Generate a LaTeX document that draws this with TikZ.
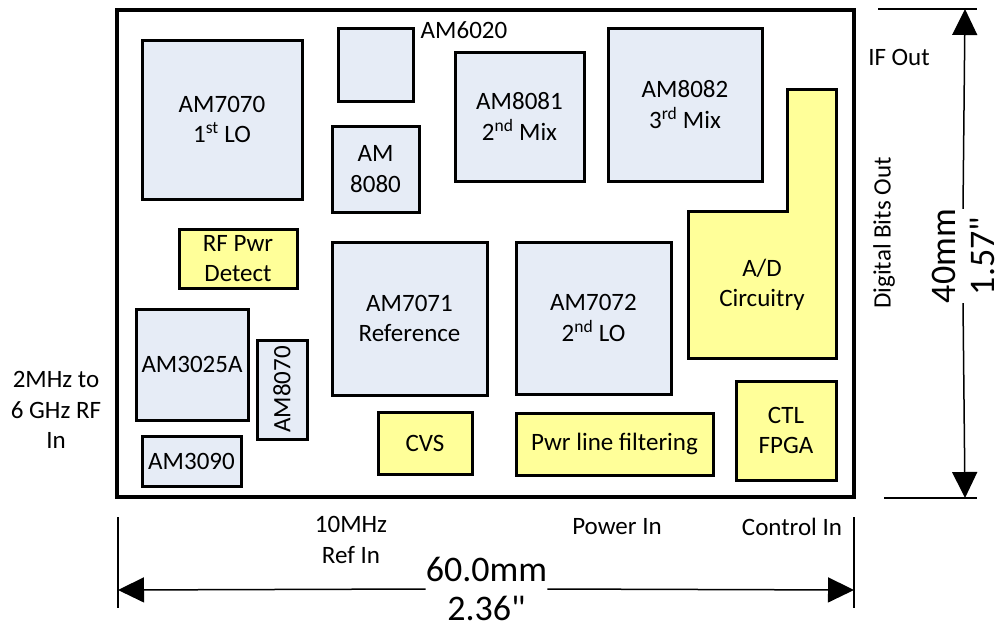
\documentclass[tikz,border=0pt]{standalone}
\usepackage{fontspec}
\setmainfont{Carlito}
\newfontfamily\nomapfont{Carlito}[Ligatures=TeXOff]
\usetikzlibrary{arrows.meta}
\definecolor{chipblue}{HTML}{E6ECF6}
\definecolor{padyellow}{HTML}{FFFF99}
\newcommand{\inchmark}{{\nomapfont"}}
\begin{document}
\begin{tikzpicture}[x=1pt,y=-1pt,
  every node/.style={font=\fontsize{25}{30.5}\selectfont, align=center, inner sep=0pt},
  chip/.style={draw=black, line width=3pt, fill=chipblue},
  pad/.style={draw=black, line width=3pt, fill=padyellow},
  boardbox/.style={draw=black, line width=4pt},
  dimline/.style={line width=1.5pt},
  dimarrow/.style={line width=1.5pt, -{Triangle[length=26pt,width=25pt]}},
  bigtxt/.style={font=\fontsize{36}{39}\selectfont}
]
\useasboundingbox (0,0) rectangle (998,624);

% board outline
\node[boardbox, minimum width=737pt, minimum height=487pt] (board) at (485.5,253.5) {};

% chips
\node[chip, minimum width=160pt, minimum height=159pt] (am7070) at (222,119.5) {AM7070\\1\textsuperscript{st} LO};
\node[chip, minimum width=75pt, minimum height=73pt] (am6020) at (375.5,64.5) {};
\node (am6020lbl) at (464,30) {AM6020};
\node[chip, minimum width=87pt, minimum height=86pt] (am8080) at (375.5,169) {AM\\8080};
\node[chip, minimum width=129pt, minimum height=129pt] (am8081) at (519.5,116.5) {AM8081\\2\textsuperscript{nd} Mix};
\node[chip, minimum width=154pt, minimum height=153pt] (am8082) at (685,104.5) {AM8082\\3\textsuperscript{rd} Mix};
\node[chip, minimum width=112pt, minimum height=111pt] (am3025a) at (192,364.5) {AM3025A};
\node[chip, rotate=90, minimum width=99pt, minimum height=50pt] (am8070) at (282,389.5) {AM8070};
\node[chip, minimum width=99pt, minimum height=50pt] (am3090) at (191.5,461) {AM3090};
\node[chip, minimum width=155pt, minimum height=153pt] (am7071) at (409.5,318.5) {AM7071\\Reference};
\node[chip, minimum width=155pt, minimum height=152pt] (am7072) at (593.5,318) {AM7072\\2\textsuperscript{nd} LO};

% yellow blocks
\draw[pad] (787,89) -- (836,89) -- (836,358) -- (688,358) -- (688,211) -- (787,211) -- cycle;
\node (adc) at (762,285) {A/D\\Circuitry};
\node[pad, minimum width=118pt, minimum height=59pt] (rfpwr) at (238,258.5) {RF Pwr\\Detect};
\node[pad, minimum width=94pt, minimum height=62pt] (cvs) at (425,443) {CVS};
\node[pad, minimum width=197pt, minimum height=62pt] (pwrfilt) at (614.5,444) {Pwr line filtering};
\node[pad, minimum width=100pt, minimum height=99pt] (ctl) at (786,430.5) {CTL\\FPGA};

% port labels
\node (ifout) at (899,57) {IF Out};
\node[rotate=90] (digout) at (884,233) {Digital Bits Out};
\node (rfin) at (56,410) {2MHz to\\6 GHz RF\\In};
\node (refin) at (351,540) {10MHz\\Ref In};
\node (pwrin) at (617,527) {Power In};
\node (ctlin) at (792,527) {Control In};

% horizontal dimension
\coordinate (hLt) at (118,517); \coordinate (hLb) at (118,608);
\coordinate (hRt) at (854,517); \coordinate (hRb) at (854,608);
\coordinate (hL) at (118,590); \coordinate (hR) at (854,590);
\draw[dimline] (hLt) -- (hLb);
\draw[dimline] (hRt) -- (hRb);
\node[bigtxt] (hdim) at (486.5,589) {60.0mm\\2.36\inchmark};
\draw[dimarrow] (hdim.west) -- (hL);
\draw[dimarrow] (hdim.east) -- (hR);

% vertical dimension
\coordinate (vTl) at (878,9); \coordinate (vTr) at (977,9);
\coordinate (vBl) at (884,498); \coordinate (vBr) at (977,498);
\coordinate (vT) at (965,9); \coordinate (vB) at (965,498);
\draw[dimline] (vTl) -- (vTr);
\draw[dimline] (vBl) -- (vBr);
\node[bigtxt, rotate=90] (vdim) at (963,256) {40mm\\1.57\inchmark};
\draw[dimarrow] (vdim.east) -- (vT);
\draw[dimarrow] (vdim.west) -- (vB);
\end{tikzpicture}
\end{document}
